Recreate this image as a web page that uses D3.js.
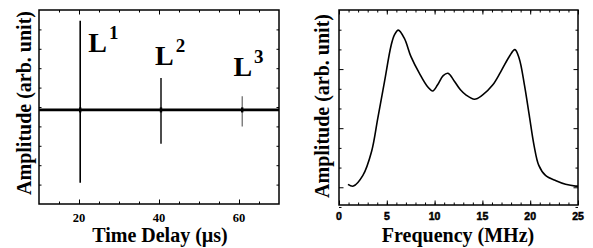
<!DOCTYPE html>
<html>
<head>
<meta charset="utf-8">
<script src="https://cdn.jsdelivr.net/npm/d3@7"></script>
<style>
  body { margin: 0; background: #fff; }
  svg { display: block; }
  .serif { font-family: "Liberation Serif", "Times New Roman", serif; font-weight: bold; }
  .sans { font-family: "Liberation Sans", Arial, sans-serif; font-weight: bold; }
</style>
</head>
<body>
<svg id="chart" width="593" height="248"></svg>
<script>
// left panel: time trace
const timeRange = [10, 70];
const ampRange = [-1, 1];
const timeTicks = [20, 40, 60];
const baselineLevel = -0.03;
const spikeTime = [20.3, 40.5, 60.8];
const spikeMax = [0.89, 0.30, 0.11];
const spikeMin = [-0.78, -0.38, -0.20];
const spikeLabels = ['1', '2', '3'];
const labelTime = [22.3, 39.0, 58.6];
const labelAmp = [0.567, 0.433, 0.323];

// right panel: spectrum
const freqRange = [0, 25];
const specRange = [-0.3, 3];
const freqTicks = [0, 5, 10, 15, 20, 25];
const freq = [0.94, 1.5, 2.5, 3.4, 4.06, 4.75, 5.45, 5.8, 6.2, 6.84, 7.53, 8.4, 9.27, 9.8, 10.3, 10.9, 11.4, 12.05,
  12.7, 13.3, 14.17, 15.0, 16.07, 16.9, 17.8, 18.4, 18.85, 19.4, 19.9, 20.4, 20.9, 21.6, 22.7, 23.7, 24.75, 25];
const spec = [0.05, 0.02, 0.2, 0.6, 1.17, 1.78, 2.4, 2.58, 2.66, 2.52, 2.21, 1.93, 1.70, 1.63, 1.73, 1.89, 1.93, 1.80,
  1.65, 1.56, 1.49, 1.56, 1.73, 1.95, 2.21, 2.33, 2.18, 1.73, 1.22, 0.71, 0.37, 0.2, 0.11, 0.05, 0.02, 0.02];

const svg = d3.select('#chart');

function frame(g, x, y) {
  g.append('rect')
    .attr('x', x.range()[0]).attr('y', y.range()[1])
    .attr('width', x.range()[1] - x.range()[0])
    .attr('height', y.range()[0] - y.range()[1])
    .attr('fill', 'none').attr('stroke', '#000').attr('stroke-width', 1.5);
}

// inward ticks on all four sides
function ticks(g, x, y, xMajor, xMinor, yMajor, yMinor) {
  const [x0, x1] = x.range();
  const [y0, y1] = y.range();
  const put = (axis, tr, vals, size) => {
    const a = g.append('g').attr('transform', tr)
      .call(axis.tickValues(vals).tickSize(size).tickFormat(''));
    a.select('.domain').remove();
    a.selectAll('line').attr('stroke', '#000').attr('stroke-width', 1);
  };
  put(d3.axisBottom(x), `translate(0,${y0})`, xMinor, -2.5);
  put(d3.axisBottom(x), `translate(0,${y0})`, xMajor, -4.5);
  put(d3.axisTop(x), `translate(0,${y1})`, xMinor, -2.5);
  put(d3.axisTop(x), `translate(0,${y1})`, xMajor, -4.5);
  put(d3.axisLeft(y), `translate(${x0},0)`, yMinor, -2.5);
  put(d3.axisLeft(y), `translate(${x0},0)`, yMajor, -4.5);
  put(d3.axisRight(y), `translate(${x1},0)`, yMinor, -2.5);
  put(d3.axisRight(y), `translate(${x1},0)`, yMajor, -4.5);
}

// ---- left panel ----
const xL = d3.scaleLinear().domain(timeRange).range([39, 279]);
const yL = d3.scaleLinear().domain(ampRange).range([204, 10]);
const gL = svg.append('g');

gL.append('line')
  .attr('x1', xL(timeRange[0])).attr('x2', xL(timeRange[1]))
  .attr('y1', yL(baselineLevel)).attr('y2', yL(baselineLevel))
  .attr('stroke', '#000').attr('stroke-width', 2.6);

const spikeColor = ['#000', '#111', '#555'];
const spikeWidth = [1.6, 1.5, 1.1];
gL.selectAll('.spike').data(spikeTime).enter().append('line')
  .attr('class', 'spike')
  .attr('x1', d => xL(d)).attr('x2', d => xL(d))
  .attr('y1', (d, i) => yL(spikeMax[i])).attr('y2', (d, i) => yL(spikeMin[i]))
  .attr('stroke', (d, i) => spikeColor[i]).attr('stroke-width', (d, i) => spikeWidth[i]);

gL.selectAll('.blob').data(spikeTime).enter().append('rect')
  .attr('x', d => xL(d) - 1.2).attr('y', yL(baselineLevel) - 2.5)
  .attr('width', 2.4).attr('height', 5).attr('fill', '#000');

const lab = gL.selectAll('.lab').data(spikeLabels).enter().append('text')
  .attr('class', 'serif')
  .attr('x', (d, i) => xL(labelTime[i])).attr('y', (d, i) => yL(labelAmp[i]))
  .attr('font-size', 28);
lab.append('tspan').text('L');
lab.append('tspan').attr('dx', 2).attr('dy', -13).attr('font-size', 19).text(d => d);

frame(gL, xL, yL);
ticks(gL, xL, yL, timeTicks, d3.range(15, 70, 5), [], d3.range(-0.8, 0.81, 0.2));

gL.selectAll('.xl').data(timeTicks).enter().append('text')
  .attr('class', 'serif').attr('font-size', 12.5)
  .attr('x', d => xL(d)).attr('y', 221.5).attr('text-anchor', 'middle')
  .text(d => d);

gL.append('text').attr('class', 'serif').attr('font-size', 20)
  .attr('x', 160).attr('y', 242).attr('text-anchor', 'middle')
  .text('Time Delay (\u00b5s)');
gL.append('text').attr('class', 'serif').attr('font-size', 20)
  .attr('transform', 'translate(31,103) rotate(-90)').attr('text-anchor', 'middle')
  .text('Amplitude (arb. unit)');

// ---- right panel ----
const xR = d3.scaleLinear().domain(freqRange).range([339, 578]);
const yR = d3.scaleLinear().domain(specRange).range([205, 10]);
const gR = svg.append('g');

const line = d3.line()
  .x((d, i) => xR(freq[i]))
  .y(d => yR(d))
  .curve(d3.curveCatmullRom.alpha(0.5));
gR.append('path').datum(spec)
  .attr('d', line)
  .attr('fill', 'none').attr('stroke', '#000').attr('stroke-width', 1.6);

frame(gR, xR, yR);
ticks(gR, xR, yR, freqTicks, d3.range(1, 25, 1), [0, 1, 2],
  d3.range(-0.3333, 3, 1 / 3).filter(v => Math.abs(v - Math.round(v)) > 0.01));

gR.selectAll('.xr').data(freqTicks).enter().append('text')
  .attr('class', 'sans').attr('font-size', 10.5)
  .attr('stroke', '#000').attr('stroke-width', 0.5)
  .attr('x', d => xR(d)).attr('y', 219.5).attr('text-anchor', 'middle')
  .text(d => d);

gR.append('text').attr('class', 'serif').attr('font-size', 20)
  .attr('x', 458).attr('y', 242).attr('text-anchor', 'middle')
  .text('Frequency (MHz)');
gR.append('text').attr('class', 'serif').attr('font-size', 20)
  .attr('transform', 'translate(329,106) rotate(-90)').attr('text-anchor', 'middle')
  .text('Amplitude (arb. unit)');
</script>
</body>
</html>
